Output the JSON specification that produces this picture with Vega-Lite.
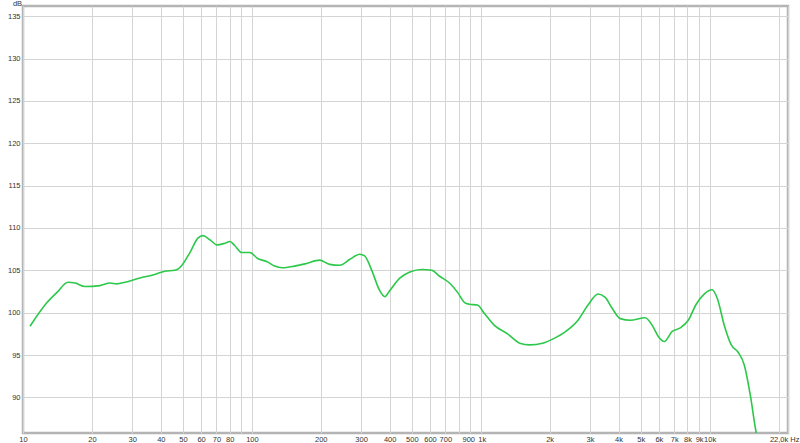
{
  "$schema": "https://vega.github.io/schema/vega-lite/v6.json",
  "autosize": {"type": "none"},
  "padding": {"left": 23, "top": 6, "right": 12, "bottom": 10},
  "width": 765,
  "height": 427,
  "background": "white",
  "config": {
    "view": {"stroke": "#b4b4b4", "strokeWidth": 2.5},
    "axis": {"labelFont": "Liberation Sans", "labelFontSize": 7.5, "labelColor": "#333333", "gridColor": "#d4d4d4", "gridWidth": 1, "domain": false, "ticks": false}
  },
  "data": {"values": [
    {"f": 10.73, "db": 98.4}, {"f": 12.73, "db": 101.2}, {"f": 14.08, "db": 102.4}, {"f": 15.73, "db": 103.6},
    {"f": 16.9, "db": 103.5}, {"f": 18.65, "db": 103.1}, {"f": 21.7, "db": 103.2}, {"f": 23.98, "db": 103.5},
    {"f": 25.7, "db": 103.4}, {"f": 27.9, "db": 103.6}, {"f": 32.4, "db": 104.1}, {"f": 37.6, "db": 104.5},
    {"f": 41.6, "db": 104.9}, {"f": 46.1, "db": 105.0}, {"f": 49.5, "db": 105.6}, {"f": 53.6, "db": 107.1},
    {"f": 58.1, "db": 108.8}, {"f": 61.1, "db": 109.1}, {"f": 65.6, "db": 108.6}, {"f": 70.4, "db": 108.0},
    {"f": 76.2, "db": 108.2}, {"f": 80.2, "db": 108.4}, {"f": 84.3, "db": 107.9}, {"f": 90.4, "db": 107.1},
    {"f": 98, "db": 107.1}, {"f": 106, "db": 106.4}, {"f": 117, "db": 106.0}, {"f": 125.7, "db": 105.5},
    {"f": 136, "db": 105.3}, {"f": 153.7, "db": 105.5}, {"f": 173, "db": 105.8}, {"f": 197.7, "db": 106.2},
    {"f": 219, "db": 105.7}, {"f": 242, "db": 105.6}, {"f": 268, "db": 106.3}, {"f": 296, "db": 106.9},
    {"f": 311, "db": 106.7}, {"f": 334, "db": 105.0}, {"f": 362, "db": 102.6}, {"f": 381, "db": 101.9},
    {"f": 400, "db": 102.6}, {"f": 444, "db": 104.1}, {"f": 490, "db": 104.8}, {"f": 553, "db": 105.1},
    {"f": 611, "db": 105.0}, {"f": 661, "db": 104.3}, {"f": 730, "db": 103.5}, {"f": 792, "db": 102.4},
    {"f": 850, "db": 101.2}, {"f": 891, "db": 101.0}, {"f": 967, "db": 100.9}, {"f": 1038, "db": 99.9},
    {"f": 1147, "db": 98.5}, {"f": 1310, "db": 97.5}, {"f": 1480, "db": 96.4}, {"f": 1635, "db": 96.2},
    {"f": 1864, "db": 96.4}, {"f": 2104, "db": 97.0}, {"f": 2330, "db": 97.7}, {"f": 2660, "db": 99.1},
    {"f": 2942, "db": 100.9}, {"f": 3255, "db": 102.2}, {"f": 3497, "db": 101.8}, {"f": 3754, "db": 100.5},
    {"f": 4070, "db": 99.3}, {"f": 4498, "db": 99.1}, {"f": 5230, "db": 99.4}, {"f": 5614, "db": 98.5},
    {"f": 5966, "db": 97.2}, {"f": 6340, "db": 96.6}, {"f": 6865, "db": 97.8}, {"f": 7442, "db": 98.2},
    {"f": 8066, "db": 99.1}, {"f": 8735, "db": 101.0}, {"f": 9467, "db": 102.2}, {"f": 10260, "db": 102.7},
    {"f": 10796, "db": 101.7}, {"f": 11590, "db": 98.5}, {"f": 12437, "db": 96.2}, {"f": 13347, "db": 95.3},
    {"f": 14180, "db": 93.8}, {"f": 15050, "db": 90.3}, {"f": 15990, "db": 85.8}, {"f": 16760, "db": 83.8}
  ]},
  "mark": {"type": "line", "color": "#2cc84a", "strokeWidth": 1.6, "interpolate": "monotone", "clip": true},
  "encoding": {
    "x": {
      "field": "f", "type": "quantitative",
      "scale": {"type": "log", "domain": [10, 22000], "nice": false},
      "axis": {
        "title": null, "grid": true, "labelOverlap": false, "labelFlush": false, "labelBound": false, "labelPadding": 2,
        "labelAlign": {"condition": {"test": "datum.value == 22000", "value": "right"}, "value": "center"},
        "labelOffset": {"condition": [{"test": "datum.value == 22000", "value": 11}, {"test": "datum.value == 900", "value": -2}, {"test": "datum.value == 1000", "value": 1}], "value": 0},
        "values": [10, 20, 30, 40, 50, 60, 70, 80, 90, 100, 200, 300, 400, 500, 600, 700, 800, 900, 1000, 2000, 3000, 4000, 5000, 6000, 7000, 8000, 9000, 10000, 20000, 22000],
        "labelExpr": "datum.value == 90 || datum.value == 800 || datum.value == 20000 ? '' : datum.value == 22000 ? '22,0k Hz' : datum.value >= 1000 ? (datum.value / 1000) + 'k' : datum.value"
      }
    },
    "y": {
      "field": "db", "type": "quantitative",
      "scale": {"domain": [85.8, 136.2], "nice": false, "zero": false},
      "axis": {
        "title": "dB", "titleAngle": 0, "titleX": -6, "titleY": -3, "titleAlign": "center", "titleBaseline": "middle",
        "titleFont": "Liberation Sans", "titleFontSize": 7.5, "titleFontWeight": "normal", "titleColor": "#333333",
        "grid": true, "labelPadding": 3, "labelOverlap": false, "labelFlush": false,
        "values": [90, 95, 100, 105, 110, 115, 120, 125, 130, 135]
      }
    }
  }
}
